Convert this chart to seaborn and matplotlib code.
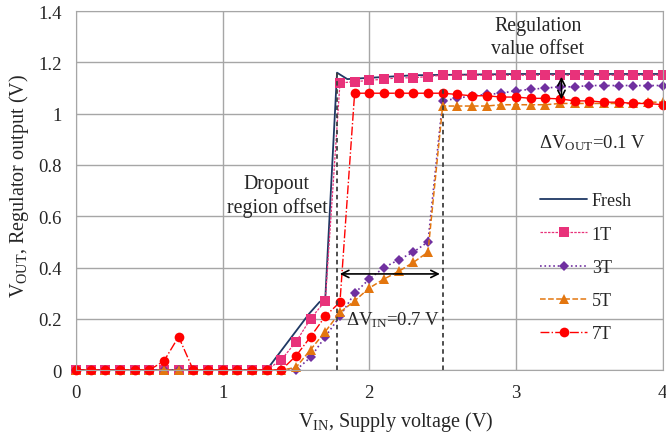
import matplotlib
matplotlib.use("Agg")
import matplotlib.pyplot as plt
import seaborn as sns
import numpy as np

# supply voltage sweep (V)
vin = [0.0, 0.1, 0.2, 0.3, 0.4, 0.5, 0.6, 0.7, 0.8, 0.9,
       1.0, 1.1, 1.2, 1.3, 1.4, 1.5, 1.6, 1.7, 1.8, 1.9,
       2.0, 2.1, 2.2, 2.3, 2.4, 2.5, 2.6, 2.7, 2.8, 2.9,
       3.0, 3.1, 3.2, 3.3, 3.4, 3.5, 3.6, 3.7, 3.8, 3.9, 4.0]

# fresh curve (no markers, own sampling)
fresh_x = [0.0, 1.3, 1.59, 1.66, 1.70, 1.78, 1.85, 2.0, 2.3, 3.0, 4.0]
fresh_y = [0.0, 0.0, 0.22, 0.265, 0.28, 1.16, 1.135, 1.14, 1.15, 1.155, 1.155]

out_1t = [0, 0, 0, 0, 0, 0, 0, 0, 0, 0,
          0, 0, 0, 0, 0.04, 0.11, 0.20, 0.27, 1.12, 1.125,
          1.13, 1.135, 1.14, 1.14, 1.145, 1.15, 1.15, 1.15, 1.15, 1.15,
          1.15, 1.15, 1.15, 1.15, 1.15, 1.15, 1.15, 1.15, 1.15, 1.15, 1.15]
out_3t = [0, 0, 0, 0, 0, 0, 0, 0, 0, 0,
          0, 0, 0, 0, 0, 0, 0.05, 0.13, 0.21, 0.30,
          0.355, 0.40, 0.43, 0.46, 0.50, 1.05, 1.06, 1.07, 1.075, 1.08,
          1.09, 1.095, 1.10, 1.105, 1.105, 1.11, 1.11, 1.11, 1.11, 1.11, 1.11]
out_5t = [0, 0, 0, 0, 0, 0, 0, 0, 0, 0,
          0, 0, 0, 0, 0, 0.01, 0.08, 0.15, 0.225, 0.27,
          0.32, 0.355, 0.385, 0.42, 0.46, 1.03, 1.03, 1.03, 1.03, 1.035,
          1.035, 1.035, 1.035, 1.04, 1.04, 1.04, 1.04, 1.04, 1.04, 1.045, 1.045]
out_7t = [0, 0, 0, 0, 0, 0, 0.035, 0.13, 0, 0,
          0, 0, 0, 0, 0, 0.055, 0.13, 0.21, 0.265, 1.08,
          1.08, 1.08, 1.08, 1.08, 1.08, 1.08, 1.075, 1.07, 1.07, 1.065,
          1.065, 1.06, 1.06, 1.058, 1.05, 1.05, 1.045, 1.045, 1.04, 1.04, 1.035]

labels = ["Fresh", "1T", "3T", "5T", "7T"]
colors = ["#1F3864", "#E8327A", "#7030A0", "#E3760F", "#FF0000"]

sns.set_style("white")
plt.rcParams['font.family'] = ['Liberation Serif', 'DejaVu Serif']
plt.rcParams['mathtext.fontset'] = 'custom'
plt.rcParams['mathtext.rm'] = 'Liberation Serif'
plt.rcParams['mathtext.it'] = 'Liberation Serif:italic'
plt.rcParams['font.size'] = 13

fig = plt.figure(figsize=(6.66, 4.35), dpi=100)
ax = fig.add_axes([0.114, 0.147, 0.881, 0.825])

sns.lineplot(x=fresh_x, y=fresh_y, ax=ax, color=colors[0], lw=1.3,
             label=labels[0])
sns.lineplot(x=vin, y=out_1t, ax=ax, color=colors[1], lw=0.9, ls=(0, (2, 1)),
             marker='s', markersize=6.5, markeredgewidth=0, label=labels[1],
             clip_on=False)
sns.lineplot(x=vin, y=out_3t, ax=ax, color=colors[2], lw=1.2, ls=':',
             marker='D', markersize=5, markeredgewidth=0, label=labels[2],
             clip_on=False)
sns.lineplot(x=vin, y=out_5t, ax=ax, color=colors[3], lw=1.1, ls='--',
             marker='^', markersize=7, markeredgewidth=0, label=labels[3],
             clip_on=False)
sns.lineplot(x=vin, y=out_7t, ax=ax, color=colors[4], lw=1.0, ls='-.',
             marker='o', markersize=7, markeredgewidth=0, label=labels[4],
             clip_on=False)

ax.set_xlim(0, 4)
ax.set_ylim(0, 1.4)
ax.set_xticks([0, 1, 2, 3, 4])
ax.set_xticklabels(["0", "1", "2", "3", "4"])
ax.set_yticks([0, 0.2, 0.4, 0.6, 0.8, 1.0, 1.2, 1.4])
ax.set_yticklabels(["0", "0.2", "0.4", "0.6", "0.8", "1", "1.2", "1.4"])
ax.grid(True, color="#A6A6A6", lw=1)
ax.set_axisbelow(True)
for s in ax.spines.values():
    s.set_color("#A6A6A6")
ax.tick_params(axis='both', direction='out', length=4, color="#A6A6A6",
               labelsize=13.5, pad=6)
ax.set_xlabel(r"V$_{\mathrm{IN}}$, Supply voltage (V)", fontsize=14.5)
ax.set_ylabel(r"V$_{\mathrm{OUT}}$, Regulator output (V)", fontsize=14.5)
ax.xaxis.set_label_coords(0.545, -0.108)
ax.yaxis.set_label_coords(-0.076, 0.515)

# annotation markers
ax.plot([1.78, 1.78], [0, 1.16], ls=(0, (2.5, 2)), color="#404040", lw=1.3)
ax.plot([2.5, 2.5], [0, 1.1], ls=(0, (2.5, 2)), color="#404040", lw=1.3)
ax.annotate("", xy=(1.78, 0.375), xytext=(2.5, 0.375),
            arrowprops=dict(arrowstyle="<->", color="black", lw=1.2))
ax.annotate("", xy=(3.31, 1.155), xytext=(3.31, 1.045),
            arrowprops=dict(arrowstyle="<->", color="black", lw=1.2))
ax.text(2.16, 0.2, r"$\Delta$V$_{\mathrm{IN}}$=0.7 V", ha='center', va='center',
        fontsize=13.5)
ax.text(3.52, 0.89, r"$\Delta$V$_{\mathrm{OUT}}$=0.1 V", ha='center', va='center',
        fontsize=13.5)
ax.text(1.37, 0.68, "Dropout\nregion offset", ha='center', va='center',
        fontsize=14.3, linespacing=1.3)
ax.text(3.15, 1.30, "Regulation\nvalue offset", ha='center', va='center',
        fontsize=14.3, linespacing=1.3)

ax.legend(loc='upper left', bbox_to_anchor=(0.776, 0.52), frameon=False,
          fontsize=13, labelspacing=0.9, handlelength=2.6, handletextpad=0.25,
          borderpad=0)

fig.savefig("out.png", dpi=100)
